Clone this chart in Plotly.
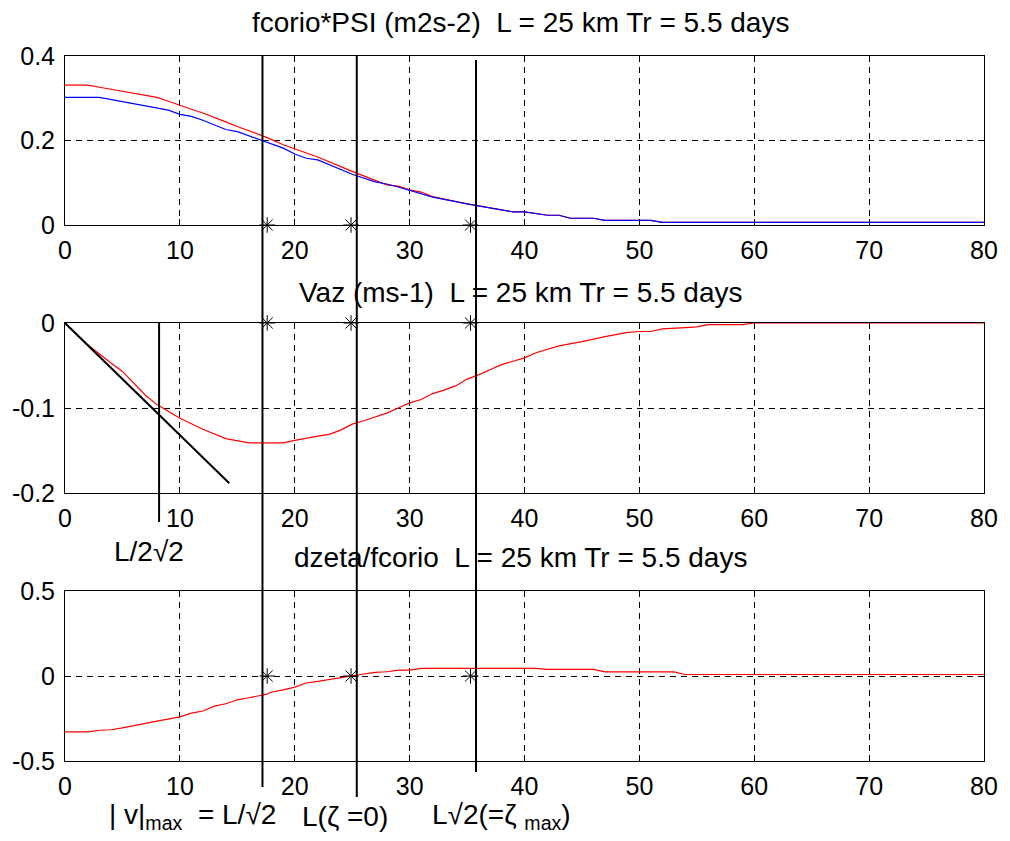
import plotly.graph_objects as go
from plotly.subplots import make_subplots

# ---- data -------------------------------------------------------------
# fcorio*PSI profiles (two runs)
psi_x = [0, 2, 3, 5, 8, 9, 10, 11, 12, 13, 14, 15, 17.5, 19, 20, 21, 22, 25, 27, 28,
         29, 30, 31, 32, 35, 38, 39, 40, 41.5, 42, 43, 44, 46, 47, 51, 52, 80]
psi_red = [0.331, 0.331, 0.326, 0.317, 0.302, 0.293, 0.283, 0.274, 0.265, 0.255, 0.244,
           0.233, 0.208, 0.190, 0.180, 0.170, 0.161, 0.127, 0.106, 0.095,
           0.092, 0.083, 0.078, 0.067, 0.050, 0.036, 0.031, 0.031, 0.025, 0.023, 0.023,
           0.016, 0.016, 0.011, 0.011, 0.006, 0.006]
psi_blue = [0.302, 0.302, 0.302, 0.292, 0.277, 0.272, 0.262, 0.257, 0.248, 0.237, 0.226,
            0.221, 0.197, 0.182, 0.168, 0.158, 0.154, 0.120, 0.102, 0.097,
            0.090, 0.082, 0.075, 0.066, 0.050, 0.036, 0.031, 0.031, 0.025, 0.023, 0.023,
            0.016, 0.016, 0.011, 0.011, 0.006, 0.006]

# azimuthal velocity
vaz_x = [0, 2, 4, 5, 7, 8, 10, 12, 14, 16, 19, 20, 22, 23, 24, 25, 26, 28, 29, 30, 31,
         32, 33, 34, 35, 36, 37, 38, 39, 40, 41, 42, 43, 45, 47, 49, 50, 51, 52, 54, 55,
         56, 59, 60, 80]
vaz = [0, -0.026, -0.047, -0.057, -0.085, -0.096, -0.112, -0.125, -0.136, -0.141, -0.141,
       -0.138, -0.133, -0.131, -0.126, -0.119, -0.115, -0.106, -0.100, -0.094, -0.090,
       -0.083, -0.079, -0.074, -0.066, -0.061, -0.055, -0.049, -0.045, -0.041, -0.035,
       -0.031, -0.027, -0.022, -0.016, -0.011, -0.010, -0.010, -0.007, -0.0055, -0.0045,
       -0.002, -0.002, 0, 0]

# relative vorticity
zeta_x = [0, 2, 3, 4, 5, 7, 8, 10, 11, 12, 13, 14, 15, 16, 17.5, 18, 19, 20, 21, 22, 23,
          24, 25, 26, 27, 28, 29, 30, 31, 41, 42, 46, 47, 53, 54, 80]
zeta = [-0.329, -0.329, -0.319, -0.316, -0.305, -0.277, -0.265, -0.240, -0.218, -0.206,
        -0.177, -0.163, -0.140, -0.128, -0.108, -0.094, -0.082, -0.065, -0.041, -0.032,
        -0.020, -0.010, 0.0, 0.012, 0.021, 0.025, 0.035, 0.035, 0.045, 0.045, 0.039,
        0.039, 0.024, 0.024, 0.009, 0.009]

# initial slope of the velocity profile
slope_x = [0, 14.3]
slope_y = [0, -0.1886]

# characteristic radii: |v|max, zeta = 0, zeta max
mark_x = [17.6, 24.9, 35.3]
mark_y = [0, 0, 0]

# guide lines: x position, top and bottom (paper units)
guide_x = [17.19, 25.40, 35.78, 8.19]
guide_top = [1.0, 1.0, 0.9943, 0.6213]
guide_bottom = [-0.0369, -0.051, -0.0156, 0.339]

titles = ["fcorio*PSI (m2s-2)  L = 25 km Tr = 5.5 days",
          "Vaz (ms-1)  L = 25 km Tr = 5.5 days",
          "dzeta/fcorio  L = 25 km Tr = 5.5 days"]

x_ticks = [0, 10, 20, 30, 40, 50, 60, 70, 80]
y_ticks = [[0, 0.2, 0.4], [-0.2, -0.1, 0], [-0.5, 0, 0.5]]
y_ticktext = [["0", "0.2", "0.4"], ["-0.2", "-0.1", "0"], ["-0.5", "0", "0.5"]]
y_ranges = [[0, 0.4], [-0.2, 0], [-0.5, 0.5]]

# ---- figure -----------------------------------------------------------
FONT = "Liberation Sans, Arial, sans-serif"
W, H = 1010, 841
ML, MR, MT, MB = 63, 22, 56, 80

fig = make_subplots(rows=3, cols=1, vertical_spacing=0.02)
domains = [[0.7603, 1.0], [0.3801, 0.6213], [0.0, 0.2411]]

fig.add_trace(go.Scatter(x=psi_x, y=psi_red, mode="lines",
                         line=dict(color="red", width=1.2)), row=1, col=1)
fig.add_trace(go.Scatter(x=psi_x, y=psi_blue, mode="lines",
                         line=dict(color="blue", width=1.2)), row=1, col=1)
fig.add_trace(go.Scatter(x=vaz_x, y=vaz, mode="lines",
                         line=dict(color="red", width=1.2)), row=2, col=1)
fig.add_trace(go.Scatter(x=slope_x, y=slope_y, mode="lines",
                         line=dict(color="black", width=2)), row=2, col=1)
fig.add_trace(go.Scatter(x=zeta_x, y=zeta, mode="lines",
                         line=dict(color="red", width=1.2)), row=3, col=1)

for r in (1, 2, 3):
    fig.add_trace(go.Scatter(x=mark_x, y=mark_y, mode="markers", cliponaxis=False,
                             marker=dict(symbol="asterisk-open", size=13, color="black",
                                         line=dict(color="black", width=1))),
                  row=r, col=1)

axis_common = dict(showline=True, linecolor="black", linewidth=1, mirror="ticks",
                   ticks="inside", ticklen=6, tickcolor="black",
                   showgrid=True, gridcolor="black", gridwidth=1, griddash="6px,5px",
                   zeroline=False, tickfont=dict(family=FONT, size=25, color="black"))

for i in range(3):
    n = "" if i == 0 else str(i + 1)
    fig.layout["xaxis" + n].update(range=[0, 80], tickvals=x_ticks,
                                   ticktext=[str(v) for v in x_ticks],
                                   ticklabelstandoff=3, **axis_common)
    fig.layout["yaxis" + n].update(range=y_ranges[i], tickvals=y_ticks[i],
                                   ticktext=y_ticktext[i], domain=domains[i],
                                   ticklabelstandoff=4, **axis_common)

shapes = []
for gx, gt, gb in zip(guide_x, guide_top, guide_bottom):
    shapes.append(dict(type="line", xref="x3", yref="paper", x0=gx, x1=gx,
                       y0=gb, y1=gt, line=dict(color="black", width=2), layer="above"))
fig.update_layout(shapes=shapes)

title_y = [1.048, 0.665, 0.288]
annotations = []
for t, ty in zip(titles, title_y):
    annotations.append(dict(text=t, xref="paper", yref="paper", x=0.4957, y=ty,
                            xanchor="center", yanchor="middle", showarrow=False,
                            font=dict(family=FONT, size=28, color="black")))

labels = [("L/2√2", 0.0508, 0.2965),
          ("| v|<sub>max</sub>  = L/√2", 0.0454, -0.0794),
          ("L(ζ =0)", 0.2562, -0.0794),
          ("L√2(=ζ <sub>max</sub>)", 0.3968, -0.0794)]
for txt, lx, ly in labels:
    annotations.append(dict(text=txt, xref="paper", yref="paper", x=lx, y=ly,
                            xanchor="left", yanchor="middle", showarrow=False,
                            font=dict(family=FONT, size=28, color="black")))
fig.update_layout(annotations=annotations)

fig.update_layout(width=W, height=H, showlegend=False,
                  margin=dict(l=ML, r=MR, t=MT, b=MB),
                  paper_bgcolor="white", plot_bgcolor="white",
                  font=dict(family=FONT, color="black"))

fig.write_html("out.html")
